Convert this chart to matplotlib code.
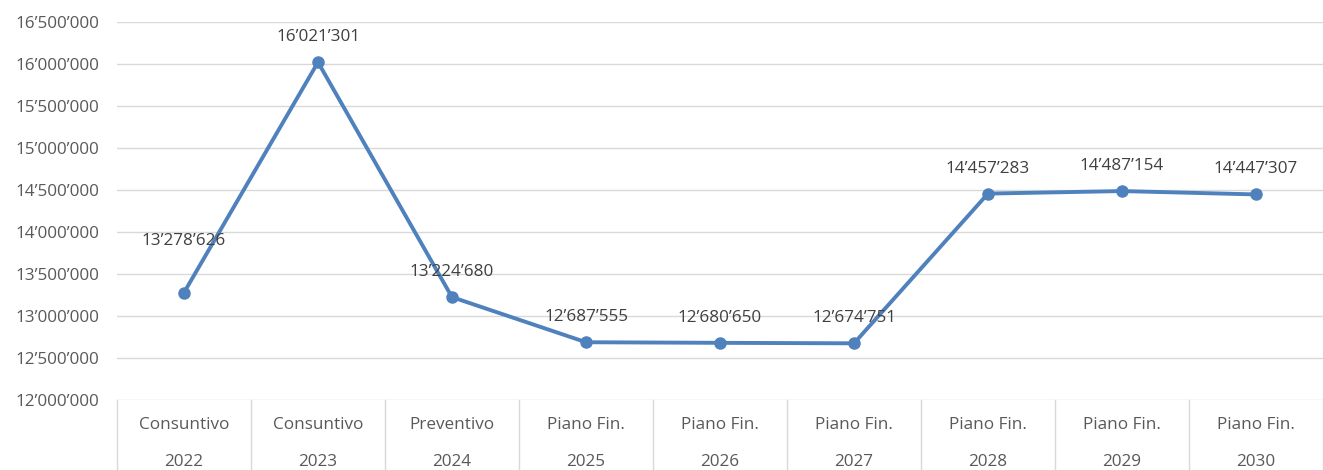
import matplotlib.pyplot as plt
from matplotlib.ticker import FuncFormatter

plt.rcParams['font.family'] = ['Open Sans', 'DejaVu Sans']

# data
tipo = ['Consuntivo', 'Consuntivo', 'Preventivo', 'Piano Fin.', 'Piano Fin.',
        'Piano Fin.', 'Piano Fin.', 'Piano Fin.', 'Piano Fin.']
anni = ['2022', '2023', '2024', '2025', '2026', '2027', '2028', '2029', '2030']
valori = [13278626, 16021301, 13224680, 12687555, 12680650,
          12674751, 14457283, 14487154, 14447307]

def fmt(v, pos=None):
    return '{:,}'.format(int(v)).replace(',', '\u2019')

fs = 12.3
fig = plt.figure(figsize=(13.23, 4.70), dpi=100)
ax = fig.add_axes([117/1323, 70/470, 1206/1323, 378/470])

blu = '#4F81BD'
x = list(range(len(valori)))
ax.plot(x, valori, color=blu, lw=2.8, marker='o', ms=8, zorder=3,
        solid_joinstyle='round')

for i, v in enumerate(valori):
    off = 52 if i == 0 else 25
    ax.annotate(fmt(v), (i, v), xytext=(0, off), textcoords='offset pixels',
                ha='center', va='center', fontsize=fs, color='#404040')

ax.set_xlim(-0.5, len(valori) - 0.5)
ax.set_ylim(12000000, 16500000)
ax.set_yticks(range(12000000, 16500001, 500000))
ax.yaxis.set_major_formatter(FuncFormatter(fmt))
ax.tick_params(axis='y', length=0, labelsize=fs, labelcolor='#595959', pad=13)
ax.grid(axis='y', color='#D9D9D9', lw=1)
ax.set_axisbelow(True)
for s in ax.spines.values():
    s.set_visible(False)

ax.set_xticks([])
trans = ax.get_xaxis_transform()
for i in range(len(valori) + 1):
    ax.plot([i - 0.5, i - 0.5], [0, -70/378], transform=trans, color='#D9D9D9',
            lw=1, clip_on=False)
for i in range(len(valori)):
    ax.text(i, -25/378, tipo[i], transform=trans, ha='center', va='center',
            fontsize=fs, color='#595959')
    ax.text(i, -62/378, anni[i], transform=trans, ha='center', va='center',
            fontsize=fs, color='#595959')

fig.savefig('out.png', dpi=100)
